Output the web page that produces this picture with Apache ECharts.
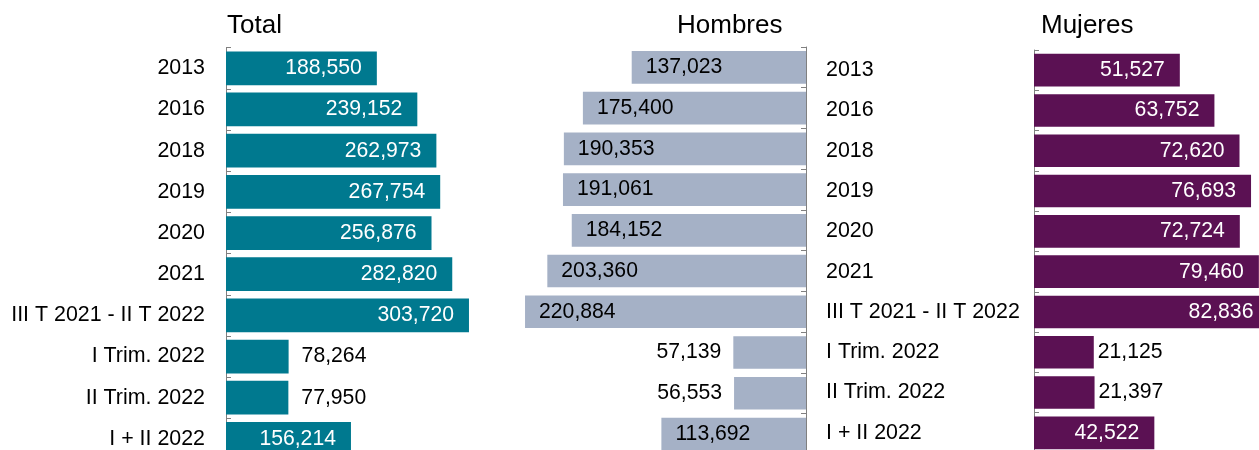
<!DOCTYPE html>
<html>
<head>
<meta charset="utf-8">
<script src="https://cdn.jsdelivr.net/npm/echarts@6/dist/echarts.min.js"></script>
<style>
html,body{margin:0;padding:0;background:#fff;overflow:hidden;}
#chart{width:1400px;height:520px;}
</style>
</head>
<body>
<div id="chart"></div>
<script>
const categories = ['2013','2016','2018','2019','2020','2021','III T 2021 - II T 2022','I Trim. 2022','II Trim. 2022','I + II 2022'];
const totalValues = [188550,239152,262973,267754,256876,282820,303720,78264,77950,156214];
const hombresValues = [137023,175400,190353,191061,184152,203360,220884,57139,56553,113692];
const mujeresValues = [51527,63752,72620,76693,72724,79460,82836,21125,21397,42522];
const panelTitles = ['Total','Hombres','Mujeres'];

const FONT = '"Liberation Sans", Arial, sans-serif';
const colors = ['#00798f','#a5b1c6','#5b1153'];
const axisColor = '#808080';

const panels = [
  {left:226, width:280, max:350000, top:47.7, height:411.8, gap:'18%', values:totalValues, right:false,
   insideColor:'#fff', insidePos:'insideRight', insideDist:15, outsideDist:13},
  {left:488, width:318, max:250000, top:47, height:407.4, gap:'20%', values:hombresValues, right:true,
   insideColor:'#000', insidePos:'insideLeft', insideDist:14, outsideDist:12},
  {left:1034, width:283, max:100000, top:50, height:403, gap:'19%', values:mujeresValues, right:false,
   insideColor:'#fff', insidePos:'insideRight', insideDist:15, outsideDist:4}
];

const fmt = v => v.toLocaleString('en-US');

const option = {
  animation:false,
  title: [
    {text:panelTitles[0], left:227, top:13},
    {text:panelTitles[1], left:677, top:13},
    {text:panelTitles[2], left:1041, top:13}
  ].map(t => Object.assign(t, {padding:0, textStyle:{fontFamily:FONT, fontSize:26, fontWeight:'normal', color:'#000'}})),
  grid: panels.map(p => ({left:p.left, width:p.width, top:p.top, height:p.height, containLabel:false})),
  xAxis: panels.map((p,i) => ({type:'value', gridIndex:i, min:0, max:p.max, inverse:p.right, show:false})),
  yAxis: panels.map((p,i) => ({
    type:'category', gridIndex:i, data:categories, inverse:true,
    position: p.right ? 'right' : 'left',
    axisLine:{show:true, lineStyle:{color:axisColor, width:1}},
    axisTick:{show:true, inside:true, length:5, lineStyle:{color:axisColor}},
    axisLabel: i === 0 ? {show:true, margin:21, fontFamily:FONT, fontSize:21.4, color:'#000', align:'right'}
             : i === 2 ? {show:true, margin:208, fontFamily:FONT, fontSize:21.4, color:'#000', align:'left'}
             : {show:false},
    splitLine:{show:false}
  })),
  series: panels.map((p,i) => ({
    type:'bar', xAxisIndex:i, yAxisIndex:i,
    barCategoryGap:p.gap,
    itemStyle:{color:colors[i]},
    data: p.values.map(v => {
      const px = v / p.max * p.width;
      const inside = px >= 100;
      return {
        value:v,
        label:{
          show:true,
          position: inside ? p.insidePos : 'outside',
          distance: inside ? p.insideDist : p.outsideDist,
          color: inside ? p.insideColor : '#000',
          fontFamily:FONT, fontSize:21.2,
          formatter: () => fmt(v)
        }
      };
    })
  }))
};

const chart = echarts.init(document.getElementById('chart'), null, {renderer:'canvas'});
chart.setOption(option);
</script>
</body>
</html>
